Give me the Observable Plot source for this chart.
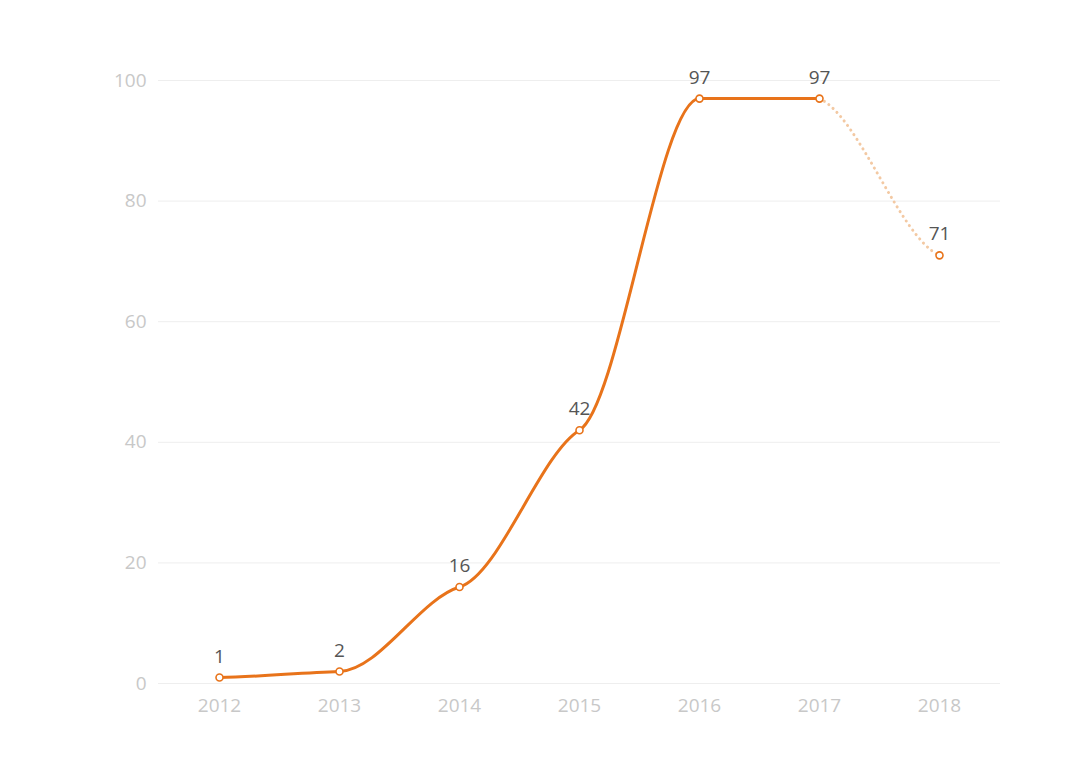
<!DOCTYPE html>
<html>
<head>
<meta charset="utf-8">
<script src="https://cdn.jsdelivr.net/npm/d3@7"></script>
<script src="https://cdn.jsdelivr.net/npm/@observablehq/plot@0.6"></script>
<style>
  html, body { margin: 0; padding: 0; background: #fff; }
  #chart svg { display: block; }
</style>
</head>
<body>
<div id="chart"></div>
<script>
const years = ["2012", "2013", "2014", "2015", "2016", "2017", "2018"];
const actualYears = ["2012", "2013", "2014", "2015", "2016", "2017"];
const actualValues = [1, 2, 16, 42, 97, 97];
const forecastYears = ["2017", "2018"];
const forecastValues = [97, 71];
const yTicks = [0, 20, 40, 60, 80, 100];

const actual = actualYears.map((y, i) => ({year: y, value: actualValues[i]}));
const forecast = forecastYears.map((y, i) => ({year: y, value: forecastValues[i]}));
const allPoints = actual.concat(forecast.slice(1));

// soft monotone cubic curve: Hermite with damped monotone tangents
function softMonotone(k) {
  return function(context) {
    let xs, ys;
    return {
      areaStart() {}, areaEnd() {},
      lineStart() { xs = []; ys = []; },
      point(x, y) { xs.push(+x); ys.push(+y); },
      lineEnd() {
        const n = xs.length;
        if (!n) return;
        context.moveTo(xs[0], ys[0]);
        if (n === 1) return;
        const s = [];
        for (let i = 0; i < n - 1; i++) s.push((ys[i + 1] - ys[i]) / (xs[i + 1] - xs[i]));
        const m = [];
        for (let i = 0; i < n; i++) {
          if (i === 0) m.push(k * s[0]);
          else if (i === n - 1) m.push(k * s[n - 2]);
          else {
            const s0 = s[i - 1], s1 = s[i];
            const h0 = xs[i] - xs[i - 1], h1 = xs[i + 1] - xs[i];
            const p = (s0 * h1 + s1 * h0) / (h0 + h1);
            const t = (Math.sign(s0) + Math.sign(s1)) * Math.min(Math.abs(s0), Math.abs(s1), 0.5 * Math.abs(p));
            m.push(k * t);
          }
        }
        for (let i = 0; i < n - 1; i++) {
          const h = (xs[i + 1] - xs[i]) / 3;
          context.bezierCurveTo(xs[i] + h, ys[i] + m[i] * h, xs[i + 1] - h, ys[i + 1] - m[i + 1] * h, xs[i + 1], ys[i + 1]);
        }
      }
    };
  };
}

const orange = "#e8731a";
const font = "'Open Sans', 'Noto Sans', sans-serif";

const chart = Plot.plot({
  width: 1080,
  height: 762,
  marginTop: 80,
  marginBottom: 79,
  marginLeft: 158,
  marginRight: 80,
  style: { fontFamily: font, background: "#fff" },
  x: { type: "point", domain: years, padding: 0.5, label: null },
  y: { domain: [0, 100], ticks: yTicks, label: null },
  marks: [
    Plot.ruleY(yTicks, { stroke: "#eeeeee", strokeWidth: 1 }),
    Plot.axisX({ tickSize: 0, tickPadding: 15, fontSize: 19, fill: "#c8c8c8", label: null }),
    Plot.axisY(yTicks, { tickSize: 0, tickPadding: 12, fontSize: 19, fill: "#c8c8c8", label: null }),
    Plot.line(forecast, {
      x: "year", y: "value", stroke: "#f3c9a3", strokeWidth: 3,
      strokeDasharray: "0.1 5.5", strokeLinecap: "round", curve: softMonotone(0.35)
    }),
    Plot.line(actual, {
      x: "year", y: "value", stroke: orange, strokeWidth: 3, curve: softMonotone(0.3)
    }),
    Plot.dot(allPoints, { x: "year", y: "value", r: 3.5, fill: "#fff", stroke: orange, strokeWidth: 1.6 }),
    Plot.text(allPoints, {
      x: "year", y: "value", text: d => String(d.value), dy: -21,
      fontSize: 19, fill: "#555", fontFamily: font
    })
  ]
});
document.getElementById("chart").appendChild(chart);
</script>
</body>
</html>
